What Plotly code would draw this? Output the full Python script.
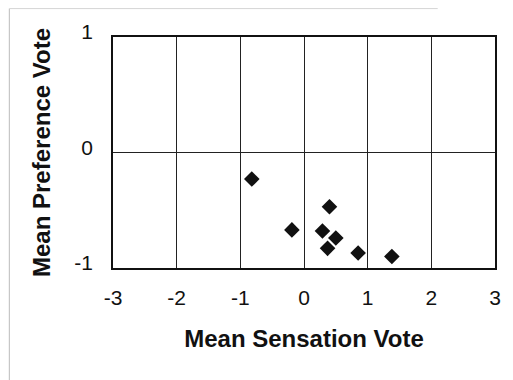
import plotly.graph_objects as go

sensation = [-0.82, 0.40, -0.19, 0.29, 0.50, 0.37, 0.85, 1.38]
preference = [-0.23, -0.47, -0.67, -0.68, -0.74, -0.83, -0.87, -0.90]
x_ticks = [-3, -2, -1, 0, 1, 2, 3]
y_ticks = [-1, 0, 1]

fig = go.Figure()
fig.add_trace(go.Scatter(
    x=sensation, y=preference, mode="markers",
    marker=dict(symbol="diamond", size=12, color="#111111"),
    showlegend=False,
))

family = "Liberation Sans, Arial, sans-serif"
tickfont = dict(family=family, size=21, color="#111111")
fig.update_layout(
    width=505, height=372,
    margin=dict(l=105, r=15, t=29, b=112),
    paper_bgcolor="white", plot_bgcolor="white",
    font=dict(family=family, size=21, color="#111111"),
    xaxis=dict(
        range=[-3, 3], tickvals=x_ticks, ticktext=[str(v) for v in x_ticks],
        tickfont=tickfont,
        showgrid=True, gridcolor="#222222", gridwidth=1,
        zeroline=False, showline=True, linecolor="#111111", linewidth=1.5, mirror=True,
        ticks="", ticklabelstandoff=10,
        title=dict(text="<b>Mean Sensation Vote</b>", font=dict(family=family, size=24), standoff=22),
    ),
    yaxis=dict(
        range=[-1, 1], tickvals=y_ticks, ticktext=[str(v) for v in y_ticks],
        tickfont=tickfont,
        showgrid=True, gridcolor="#222222", gridwidth=1,
        zeroline=False, showline=True, linecolor="#111111", linewidth=1.5, mirror=True,
        ticks="", ticklabelstandoff=14, ticklabelshift=-5,
        title=dict(text="<b>Mean Preference Vote</b>", font=dict(family=family, size=24), standoff=17),
    ),
)
fig.add_shape(type="line", xref="paper", yref="paper", x0=-0.2714, x1=-0.2714, y0=-0.49, y1=1.123,
              line=dict(color="#bbbbbb", width=1))
fig.add_shape(type="line", xref="paper", yref="paper", x0=-0.2714, x1=0.85, y0=1.123, y1=1.123,
              line=dict(color="#d5d5d5", width=1))
fig.write_html("out.html")
